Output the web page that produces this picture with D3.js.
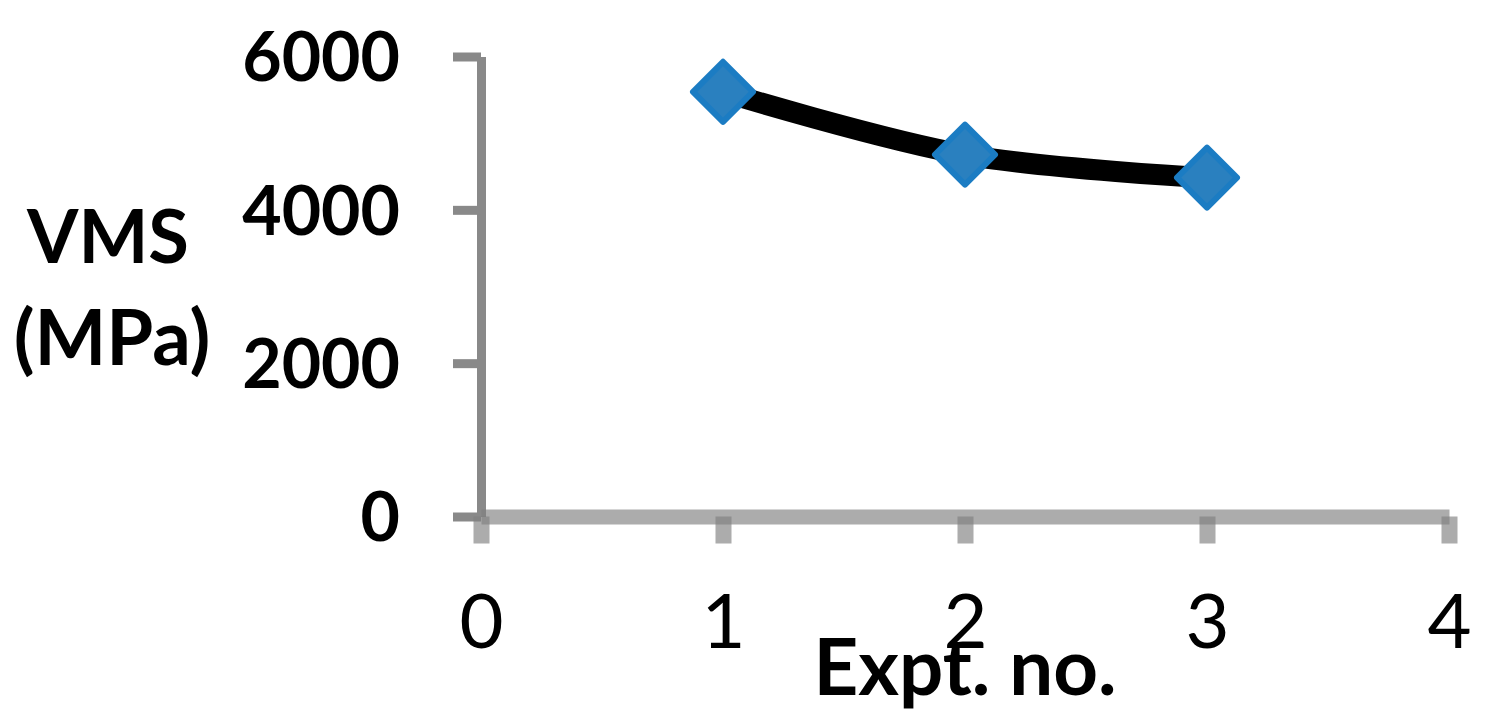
<!DOCTYPE html>
<html>
<head>
<meta charset="utf-8">
<script src="https://cdn.jsdelivr.net/npm/d3@7"></script>
<style>
  body { margin: 0; background: #fff; }
  svg { display: block; }
</style>
</head>
<body>
<svg id="chart" width="1488" height="728"></svg>
<script>
// values
var exptNo = [1, 2, 3];
var vms = [5540, 4720, 4420];
var xTicks = [0, 1, 2, 3, 4];
var yTicks = [0, 2000, 4000, 6000];

var svg = d3.select("#chart");

var x = d3.scaleLinear().domain([0, 4]).range([481, 1449]);
var y = d3.scaleLinear().domain([0, 6000]).range([516.5, 56.5]);

// y axis
var yAxis = svg.append("g")
        .attr("transform", "translate(" + x(0) + ",0)")
        .call(d3.axisLeft(y).tickValues(yTicks).tickFormat(d3.format("d"))
                .tickSizeInner(28).tickSizeOuter(0).tickPadding(53));

yAxis.select(".domain")
        .attr("stroke", "#898989")
        .attr("stroke-width", 9);
yAxis.selectAll(".tick line")
        .attr("stroke", "#898989")
        .attr("stroke-width", 9);
yAxis.selectAll(".tick text")
        .attr("font-family", "Lato, 'Open Sans', sans-serif")
        .attr("font-weight", "bold")
        .attr("font-size", 68)
        .attr("fill", "#000")
        .attr("dy", "0.36em");

// x axis
var xAxis = svg.append("g")
        .attr("transform", "translate(0," + y(0) + ")")
        .call(d3.axisBottom(x).tickValues(xTicks).tickFormat(d3.format("d"))
                .tickSizeInner(27).tickSizeOuter(0).tickPadding(0));

xAxis.select(".domain")
        .attr("stroke", "rgba(128,128,128,0.65)")
        .attr("stroke-width", 15);
xAxis.selectAll(".tick line")
        .attr("stroke", "rgba(128,128,128,0.65)")
        .attr("stroke-width", 16);
xAxis.selectAll(".tick text")
        .attr("font-family", "Lato, 'Open Sans', sans-serif")
        .attr("font-size", 76)
        .attr("fill", "#000")
        .attr("y", 104)
        .attr("dy", "0.36em");

// line
var line = d3.line()
        .x(function (d, i) { return x(exptNo[i]); })
        .y(function (d) { return y(d); })
        .curve(d3.curveCatmullRom.alpha(0.5));

svg.append("path")
        .datum(vms)
        .attr("d", line)
        .attr("fill", "none")
        .attr("stroke", "#000")
        .attr("stroke-width", 21);

// markers
svg.selectAll(".pt")
        .data(vms)
        .enter()
        .append("path")
        .attr("class", "pt")
        .attr("transform", function (d, i) {
            return "translate(" + x(exptNo[i]) + "," + y(d) + ")";
        })
        .attr("d", "M0,-30L30,0L0,30L-30,0Z")
        .attr("fill", "#2a80bf")
        .attr("stroke", "#1b7cc3")
        .attr("stroke-width", 6)
        .attr("stroke-linejoin", "round");

// axis titles
var yTitle = svg.append("text")
        .attr("font-family", "Lato, 'Open Sans', sans-serif")
        .attr("font-weight", "bold")
        .attr("font-size", 72)
        .attr("text-anchor", "middle")
        .attr("fill", "#000");
yTitle.append("tspan").attr("x", 108).attr("y", 263).attr("font-size", 74).text("VMS");
yTitle.append("tspan").attr("x", 112).attr("y", 365).attr("font-size", 76).text("(MPa)");

svg.append("text")
        .attr("x", 965)
        .attr("y", 695)
        .attr("font-family", "Lato, 'Open Sans', sans-serif")
        .attr("font-weight", "bold")
        .attr("font-size", 78)
        .attr("text-anchor", "middle")
        .attr("fill", "#000")
        .text("Expt. no.");
</script>
</body>
</html>
